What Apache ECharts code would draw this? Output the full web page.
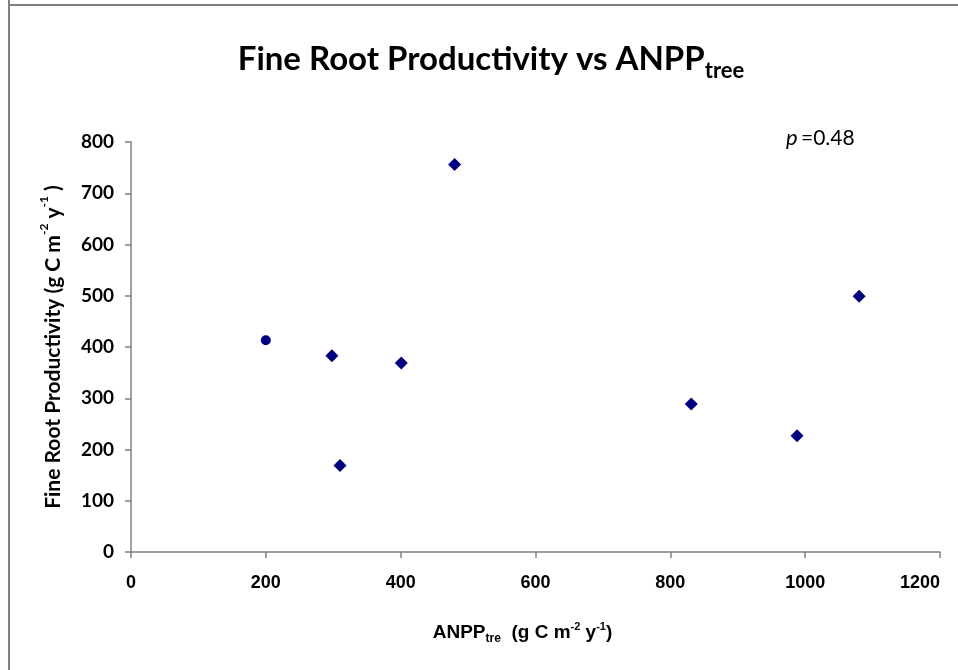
<!DOCTYPE html>
<html>
<head>
<meta charset="utf-8">
<script src="https://cdn.jsdelivr.net/npm/echarts@6/dist/echarts.min.js"></script>
<style>html,body{margin:0;padding:0;background:#fff;}#c{width:958px;height:670px;}</style>
</head>
<body>
<div id="c"></div>
<script>
// Data
var anppTree = [200, 298, 310, 401, 480, 831, 988, 1080];
var fineRootProd = [413, 383, 169, 369, 756, 289, 227, 499];
var pointShapes = ['circle', 'diamond', 'diamond', 'diamond', 'diamond', 'diamond', 'diamond', 'diamond'];
var xTicks = [0, 200, 400, 600, 800, 1000, 1200];
var yTicks = [0, 100, 200, 300, 400, 500, 600, 700, 800];
var pValueText = '=0.48';

var points = anppTree.map(function (x, i) {
  return { value: [x, fineRootProd[i]], symbol: pointShapes[i], symbolSize: pointShapes[i] === 'circle' ? 10 : 13 };
});

var chart = echarts.init(document.getElementById('c'));
var labelFont = 'Lato, "Open Sans", sans-serif';
var arialFont = '"Liberation Sans", Arial, sans-serif';
chart.setOption({
  backgroundColor: '#ffffff',
  animation: false,
  title: {
    text: '{a|Fine Root Productivity vs ANPP}{b|tree}',
    left: 486,
    textAlign: 'center',
    top: 31,
    textStyle: {
      rich: {
        a: { fontFamily: labelFont, fontWeight: 'bold', fontSize: 33, color: '#000', lineHeight: 46, verticalAlign: 'middle' },
        b: { fontFamily: labelFont, fontWeight: 'bold', fontSize: 22, color: '#000', lineHeight: 22, verticalAlign: 'bottom' }
      }
    }
  },
  grid: { left: 131, right: 18, top: 142, bottom: 118, containLabel: false, outerBoundsMode: 'none' },
  xAxis: {
    type: 'value',
    min: xTicks[0],
    max: xTicks[xTicks.length - 1],
    interval: xTicks[1] - xTicks[0],
    name: '{n|ANPP}{s|tre}{n|  (g C m}{u|-2}{n| y}{u|-1}{n|)}',
    nameLocation: 'middle',
    nameGap: 69,
    nameTextStyle: {
      padding: [0, 26, 0, 0],
      rich: {
        n: { fontFamily: arialFont, fontWeight: 'bold', fontSize: 19, color: '#000', lineHeight: 22 },
        s: { fontFamily: arialFont, fontWeight: 'bold', fontSize: 12, color: '#000', lineHeight: 17, verticalAlign: 'bottom' },
        u: { fontFamily: arialFont, fontWeight: 'bold', fontSize: 11, color: '#000', lineHeight: 24, verticalAlign: 'top' }
      }
    },
    axisLine: { show: true, onZero: false, lineStyle: { color: '#808080', width: 1.5 } },
    axisTick: { show: true, inside: false, length: 6, lineStyle: { color: '#808080', width: 1.5 } },
    axisLabel: {
      margin: 22,
      fontFamily: arialFont,
      fontWeight: 'bold',
      fontSize: 18,
      color: '#000',
      showMaxLabel: true,
      showMinLabel: true,
      alignMaxLabel: 'right',
      formatter: function (v) { return String(v); }
    },
    splitLine: { show: false }
  },
  yAxis: {
    type: 'value',
    min: yTicks[0],
    max: yTicks[yTicks.length - 1],
    interval: yTicks[1] - yTicks[0],
    name: '{n|Fine Root Productivity (g C m}{u|-2}{n| y}{u|-1}{n| )}',
    nameLocation: 'middle',
    nameGap: 63,
    nameRotate: 90,
    nameTextStyle: {
      rich: {
        n: { fontFamily: labelFont, fontWeight: 'bold', fontSize: 21, color: '#000', lineHeight: 26 },
        u: { fontFamily: labelFont, fontWeight: 'bold', fontSize: 12, color: '#000', lineHeight: 30, verticalAlign: 'top' }
      }
    },
    axisLine: { show: true, onZero: false, lineStyle: { color: '#808080', width: 1.5 } },
    axisTick: { show: true, inside: false, length: 6, lineStyle: { color: '#808080', width: 1.5 } },
    axisLabel: {
      margin: 17,
      fontFamily: labelFont,
      fontWeight: 'bold',
      fontSize: 19,
      color: '#000'
    },
    splitLine: { show: false }
  },
  series: [{
    type: 'scatter',
    data: points,
    itemStyle: { color: '#000080', opacity: 1 },
    emphasis: { disabled: true }
  }],
  graphic: [
    { type: 'line', shape: { x1: 9, y1: 0, x2: 9, y2: 670 }, style: { stroke: '#808080', lineWidth: 2 }, z: 10 },
    { type: 'line', shape: { x1: 8, y1: 5, x2: 958, y2: 5 }, style: { stroke: '#808080', lineWidth: 2 }, z: 10 },
    {
      type: 'text', left: 786, top: 127, z: 10,
      style: {
        text: '{p|p} {v|' + pValueText + '}',
        rich: {
          p: { fontFamily: labelFont, fontStyle: 'italic', fontSize: 22, fill: '#000' },
          v: { fontFamily: labelFont, fontSize: 21, fill: '#000' }
        }
      }
    }
  ]
});
</script>
</body>
</html>
